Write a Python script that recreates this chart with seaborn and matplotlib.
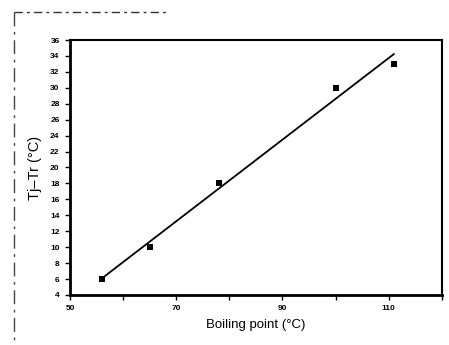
import matplotlib
matplotlib.use("Agg")
import matplotlib.pyplot as plt
from matplotlib.lines import Line2D
import seaborn as sns
import pandas as pd

# Boiling point of each liquid vs. temperature difference Tj - Tr
boiling_point = [56, 65, 78, 100, 111]
temp_diff = [6, 10, 18, 30, 33]
x_ticks = [50, 60, 70, 80, 90, 100, 110, 120]
x_tick_labels = ["50", "", "70", "", "90", "", "110", ""]
y_ticks = list(range(4, 37, 2))

sns.set_theme(style="white")
plt.rcParams["font.family"] = ["Liberation Sans", "DejaVu Sans"]

df = pd.DataFrame({"bp": boiling_point, "dt": temp_diff})

fig = plt.figure(figsize=(4.49, 3.45), dpi=100)
ax = fig.add_axes([0.156, 0.145, 0.828, 0.739])

sns.regplot(data=df, x="bp", y="dt", ax=ax, ci=None, color="black",
            marker="s", scatter_kws={"s": 13, "linewidths": 0, "alpha": 1},
            line_kws={"linewidth": 1.3})

ax.set_xlim(50, 120)
ax.set_ylim(4, 36)
ax.set_xticks(x_ticks)
ax.set_xticklabels(x_tick_labels)
ax.set_yticks(y_ticks)
ax.tick_params(axis="both", direction="out", length=3.5, width=1,
               labelsize=6, colors="black", pad=4, bottom=True, left=True)
for lbl in ax.get_xticklabels() + ax.get_yticklabels():
    lbl.set_fontweight("bold")

ax.set_xlabel("Boiling point (°C)", fontsize=9.5, labelpad=5, color="black")
ax.set_ylabel("Tj–Tr (°C)", fontsize=10.5, labelpad=6, color="black")

for side in ["left", "bottom"]:
    ax.spines[side].set_linewidth(2)
for side in ["top", "right"]:
    ax.spines[side].set_linewidth(1.5)
for sp in ax.spines.values():
    sp.set_color("black")

# faint dashed page frame along the top-left edge
fig.add_artist(Line2D([0.031, 0.37], [0.965, 0.965], transform=fig.transFigure,
                      color="#333333", linewidth=1, linestyle=(0, (6, 3, 2, 3))))
fig.add_artist(Line2D([0.031, 0.031], [0.965, 0.0], transform=fig.transFigure,
                      color="#444444", linewidth=1, linestyle=(0, (10, 4, 2, 4))))

fig.savefig("out.png", dpi=100, facecolor="white")
